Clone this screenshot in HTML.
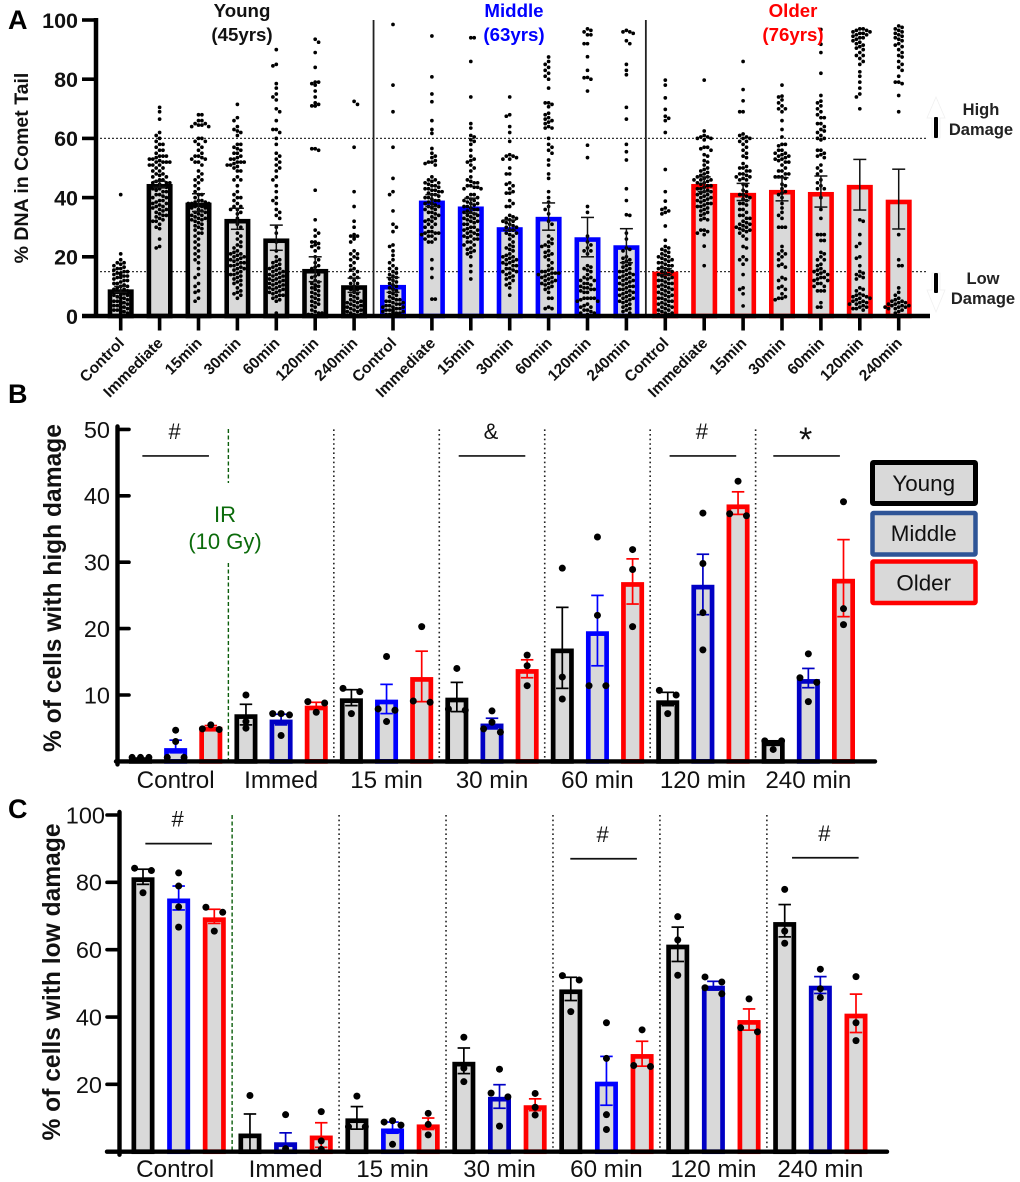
<!DOCTYPE html>
<html lang="en">
<head>
<meta charset="utf-8">
<title>Comet assay DNA damage by age group</title>
<style>
html,body{margin:0;padding:0;background:#fff;}
svg{display:block;font-family:"Liberation Sans",sans-serif;}
</style>
</head>
<body>
<svg id="figure" xmlns="http://www.w3.org/2000/svg" width="1020" height="1182" viewBox="0 0 1020 1182">
  <rect x="0" y="0" width="1020" height="1182" fill="#fff"/>
  <g id="panelA"></g>
  <g id="panelB"></g>
  <g id="panelC"></g>

  <text x="8" y="29" font-size="27" font-weight="bold">A</text>
  <text x="8" y="403" font-size="27" font-weight="bold">B</text>
  <text x="8" y="818" font-size="27" font-weight="bold">C</text>

  <text x="242" y="17" font-size="18.7" font-weight="bold" text-anchor="middle" fill="#111">Young</text>
  <text x="242" y="41" font-size="18.7" font-weight="bold" text-anchor="middle" fill="#111">(45yrs)</text>
  <text x="514" y="17" font-size="18.7" font-weight="bold" text-anchor="middle" fill="#0000ff">Middle</text>
  <text x="514" y="41" font-size="18.7" font-weight="bold" text-anchor="middle" fill="#0000ff">(63yrs)</text>
  <text x="793" y="17" font-size="18.7" font-weight="bold" text-anchor="middle" fill="#ff0000">Older</text>
  <text x="793" y="41" font-size="18.7" font-weight="bold" text-anchor="middle" fill="#ff0000">(76yrs)</text>

  <polygon points="936,97 945,118 940,118 940,138 932,138 932,118 927,118" fill="#fff" stroke="#f0f0f0" stroke-width="0.8"/>
  <polygon points="936,312 945,290 940,290 940,273 932,273 932,290 927,290" fill="#fff" stroke="#f0f0f0" stroke-width="0.8"/>
  <rect x="934" y="117" width="4" height="21" rx="1" fill="#000"/>
  <rect x="934" y="273" width="4" height="20" rx="1" fill="#000"/>
  <text font-size="16.5" font-weight="bold" text-anchor="middle" fill="#222"><tspan x="981" y="115">High</tspan><tspan x="981" y="135">Damage</tspan></text>
  <text font-size="16.5" font-weight="bold" text-anchor="middle" fill="#222"><tspan x="983" y="284">Low</tspan><tspan x="983" y="304">Damage</tspan></text>

  <text font-size="22" text-anchor="middle" fill="#0b6b0b"><tspan x="225" y="522">IR</tspan><tspan x="225" y="549">(10 Gy)</tspan></text>

  <g>
    <g>
      <rect x="872.5" y="462.5" width="103" height="41" rx="1" fill="#d9d9d9" stroke="#000" stroke-width="5"/>
      <text x="923.7" y="491" font-size="22.4" text-anchor="middle" fill="#111">Young</text>
    </g>
    <g>
      <rect x="872.5" y="513" width="103" height="41.5" rx="1" fill="#d9d9d9" stroke="#2f5597" stroke-width="4.5"/>
      <text x="923.7" y="541" font-size="22.4" text-anchor="middle" fill="#111">Middle</text>
    </g>
    <g>
      <rect x="872.5" y="561.5" width="103" height="41.5" rx="1" fill="#d9d9d9" stroke="#ff0000" stroke-width="4.5"/>
      <text x="923.7" y="590.5" font-size="22.4" text-anchor="middle" fill="#111">Older</text>
    </g>
  </g>
</svg>

<script>
/* ---------- Panel A data ---------- */
const aCategories = ['Control','Immediate','15min','30min','60min','120min','240min'];
const aTicks = [0,20,40,60,80,100];
const aThresholds = [60,15];

const aMeanYoung = [9,44.6,38.3,32.8,26.2,15.9,10.4];
const aUpperYoung = [10,45.5,41.3,36.4,30.7,20,12.8];
const aLowerYoung = [8,43.5,35.3,29.3,22.2,11.6,8];
const aMeanMiddle = [10.5,39,37,30,33.5,26.6,23.9];
const aUpperMiddle = [13,41,39.8,32.4,38.2,33.3,29.5];
const aLowerMiddle = [8,37,34.7,29,29,20,18];
const aMeanOlder = [15,44.6,41.6,42.6,41.9,44.3,39.3];
const aUpperOlder = [16,47,44.8,46.7,47.3,52.9,49.6];
const aLowerOlder = [14,42,39,38.9,36.8,35.8,29.4];

const aCellsYoung = [
 [41,21,19,18,18,17.5,17,16.5,16,16,15.5,15,15,14.5,14.5,14,14,14,13.5,13.5,13,13,12.5,12,12,11.5,11,11,10.5,10,10,10,9.5,9,9,8.5,8.5,8,8,7.5,7,7,7,6.5,6,6,6,5.5,5,5,5,4.5,4.5,4,4,4,3.5,3.5,3,3,3,2.5,2.5,2,2,2,1.5,1.5,1,1],
 [70.5,69,66.5,62,61,60,59,58,58,57,56,56,55,54,54,54,53.5,53,53,52.5,52,52,52,52,51,51,51,50,50,49,49,48,48,47.5,47,47,46,46,45.5,45,45,45,44.5,44,44,43.5,43,43,42.5,42,42,41,41,40.5,40,40,39,39,38.5,38,38,37.5,37,37,36.5,36,36,35.5,35,34.5,34,34,33.5,33,32.5,32,32,31,30,29.5,26,23.5,23],
 [68,68,66,66,65,65,64.5,64.5,64,64,60,60,59,59,58,57,56,55,54,54,53.5,53,53,52,52,51,49,48,47,46,46,45,44,43,42,41,41,40,39,39,38.5,38.5,38,38,38,37.5,37,37,36.5,36.5,36,35.5,35,35,34.5,34,34,33.5,33,33,32.5,32.5,32,32,31.5,31,30.5,30,29.5,29,28,28,27,26,25,24,23,22,21,20,19,18,16,14,13,11,10,8.5,8,6,5],
 [71.5,67,66,64,63,62.5,62,61,58,58,57,56.5,56,55,55,54,53.5,53,53,52,52,52,51.5,51,51,50.5,50,49,49,47,46,46,44,42,41,40,40,39,38,37,37,36,36,35,34.5,33,31,30,28,27,26,25,24,23.5,23,22,21.5,21,21,20.5,20,20,19.5,19,19,18.5,18,18,17.5,17,17,16.5,16,16,15.5,15,14.5,14,14,13.5,13,12.5,12,11.5,11,10.5,9.5,8.5,8,7.5,7,6],
 [90,85,84.5,78.5,77,75,74,73,70,69,66,63,63,62,60,58,55,54,53,52,51,50,49,47,46,44,42,40,39,38,36,35,34,33,30,28,25,22,20,19,18.5,18,17.5,17,16.5,16,16,15.5,15,15,14.5,14,14,13.5,13.5,13,13,12.5,12.5,12,12,11.5,11.5,11,11,10.5,10.5,10,10,9.5,9.5,9,9,8.5,8.5,8,8,7.5,7,7,6.5,6,5.5,5,1],
 [93.5,92.5,89,84,79,79,78.5,78,76,74,72,71.5,71,71,71,56.5,56.5,56,42.5,32.5,29,28,27,25,25,24.5,24,23.5,23,22,20,19,18,17,16.5,16,15,14,13.5,13,12,11.5,11,10.5,10,10,9.5,9,8.5,8,7.5,7,6.5,6,5.5,5,4.5,4,3.5,3,2,1.5,1,1,0.5,0.5],
 [72.5,71.5,57,42,37,32,30,27.5,27,27,26.5,26,25,22,21,21,20,19.5,19,18,17,16,15.5,15,14,13,13,12,12,11,11,10,10,9,9,8.5,8,7.5,7,6.5,6,5.5,5,5,4.5,4.5,4,4,3.5,3.5,3,3,2.5,2.5,2,2,1.5,1.5,1,1,0.5,0.5]
];
const aCellsMiddle = [
 [98.5,78,69,57,46.5,42,41,35.5,31,30,28.5,24,23.5,22,20.5,19,18,17,16,16,15,14.5,14,13.5,13,12.5,12,11.5,11,10.5,10,9.5,9,8.5,8,7.5,7,6.5,6,6,5.5,5.5,5,5,4.5,4.5,4,4,3.5,3.5,3,3,3,2.5,2.5,2,2,2,1.5,1.5,1.5,1,1,1,0.5,0.5,0.5,0.5],
 [94.6,80.8,75,72.4,66,63,61.7,56.6,55,54,53.5,52.5,52,52,51.5,51,47,46,46,45.5,45,45,44.5,44,44,43.5,43,43,42.5,42.5,42,42,41.5,41,41,40.5,40,40,39.5,39,39,38.5,38,38,37.5,37,37,36.5,36,36,35,35,34.5,34,33.5,33,32.5,32,32,31,31,30,30,28.5,28.5,28,28,28,27.5,27,27,26,26,25,25,19,16,13,5.7,5.7],
 [94,94,86,74,65,63.5,61,60.5,59.5,59,58,56,54,53,52.5,52,51,50,49,47,46,45.5,45,45,44,44,43.5,43.5,43,43,41,41,40,40,39.5,39,39,38.5,38,38,37.5,37,37,36.5,36,36,35.5,35,35,34.5,34,34,33.5,33,33,32.5,32,32,31.5,31,31,30,30,29.5,29,29,28.5,28,28,27.5,27,27,26.5,26,26,25,25,24,24,23,22.5,22,21.5,21,20,17,15,12.5],
 [74,68,67.5,64,62,59,54.5,54,54,53.5,53,53,50,48,48,45,44.5,44,43,42,41.5,41.5,39,38,37,37,34,33.5,33,33,32.5,32,32,31.5,31,30.5,30,30,29,29,28,28,27.5,27,26,25,24,23.5,23,22.5,22,21,20.5,20,20,19.5,19,19,18.5,18,18,17.5,17,17,16,16,15.5,15,15,14.5,14,13.5,13,12.5,12,11,10.5,9.5,7],
 [87.5,86,85,84,83,82,81,80,77,72,72,71.5,70.7,68.5,68,67,66.5,66,65.5,65,64,63.5,63.5,60,58,57,56,55,52.7,51,48,46.5,42,40,38.5,37,36,34.5,32,31,27,26,25,24.5,24,23.5,23.5,22,21.5,21,20.5,20,19,18,17,16,15.5,15,15,14.5,14.5,14.5,14,14,13.5,13,13,12.5,12,12,11.5,11,11,10.5,10,9.5,9,8,6,6,3,2.5,2.5],
 [97,96.5,96,95,95,92,92,87.6,83,80.6,80.5,80,76,57.7,53.5,37,35,27,25,24,23,22,22,21,17,16.5,16,15.5,15,14,13,13,12.5,12,12,11,11,10.5,10,9.5,9.5,9,9,8.5,8,8,6,6,6,6,5.5,5,5,4,3.5,3,3,2,2,1.5,1,1,0.5],
 [96.5,96,96,95.5,93,92,85,83,81.5,70.5,66.5,58,55.5,52.7,43,39,34.2,34,28,26,23,22.5,22,20,19.5,19,18.5,18,17.5,17,16.5,16,15.5,15,15,14.5,14,14,13.5,13,13,12.5,12,12,11.5,11,11,10.5,10,10,9.5,9,9,8.5,8,8,7.5,7,7,6.5,6,6,5.5,5,5,4.5,4,3.5,3,2.5,2,1.5,1]
];
const aCellsOlder = [
 [79.7,78,73.7,69.8,67.5,66.8,66,62,49.5,42,38.8,36.5,36,35.5,35,34.5,30.4,25.6,23.5,23,22.5,22,21.5,21,20.5,20,20,19.5,19,19,18.5,18,18,17.5,17,17,16.5,16,16,15.5,15,15,14.5,14,14,13.5,13,13,12.5,12,12,11.5,11,11,10.5,10,10,9.5,9,9,8.5,8,8,7.5,7,7,6.5,6,6,5.5,5,5,4.5,4,4,3.5,3,3,2.5,2,2,1.5,1,1,0.5,0.5],
 [79.7,62.5,61,60.5,60.5,60,60,59.5,57,57,56.5,56,54.5,54,52.5,52,51,50,49.5,49,48.5,48,47.5,47,47,46.5,46,46,46,45.5,45,45,44.5,44,44,43.5,43,43,42.5,42,42,41.5,41,41,40.5,40,40,39.5,39,39,38.5,38,38,37.5,37,37,36.5,36,35.5,35,34.5,34,33,32.5,32.5,29,29,28.5,28,27.5,23.6,17],
 [86,76.5,72.7,69,69,61.5,61,60.5,60,60,59,59,58,57,56,55,54,53.5,51.5,50.5,50,50,49,49,48,48,47.5,47,47,46.5,46,46,44.5,44,42.5,42,41,41,40.5,40,39.5,39,38,38,37.5,36,36,35,34,34,33,33,32,31.5,31,31,30.5,30,30,29.5,29,29,28.5,28,27,26,23.5,23,20,19,19,17.5,14,9.5,9,7.5,3.4],
 [78,74.3,74,73,72,71,70,70,69,66,63,60.5,58,58,57.5,56,56,55,55,54.5,54,54,53.5,53,53,52.5,52,52,51,50,49,49,48,48,47,47,47,46.5,44.5,44,43,42,41.5,41,40,38,36.5,35,34,33,30,30,30,23.5,22,21,21,20,19,17.5,17,16.5,13,12.5,12,10,9.5,9,7.5,6.5,6,6,5.5],
 [96.8,91.8,89,82,74.5,72.6,72,71,70,69,68,67,67,65,65,64,63,62.5,62,61,60,60,59.5,56,56,55,54.5,54,53.5,51,50,49,48,46,45,44,43,43,40,36,33,27.5,27.5,27.5,25.5,25.5,21.5,21,20,19,19,17.5,17,16,15.5,15,15,14.5,14,14,13,13,12.5,12,12,11,11,10,10,8.5,8.5,8.5,4.5,3,3],
 [97,97,96.5,96.5,96,96,95.5,95.5,95,95,94.5,94,94,93.5,93,92.5,92,91.5,91,90.5,90,89,88,88,87,86,85,82.5,81,79,77,75,74,70,32.5,32,27.5,24.5,23.5,20,19.5,17,15,14.5,14,13.5,13,12.5,9.5,9,8.5,7.5,7,7,6.5,6.5,6,6,5.5,5,5,4.5,4.5,4,4,3.5,3,3,2.5,2.5,2],
 [98,97.5,97,96.5,96,95.5,95,94.5,94,93.5,93,92,91.5,91,90,89,88,87.5,86,85,84,83,81,79,79,78.5,74.5,69,27.5,19,17,17,9.5,8,7,6,5.5,5,5,4.5,4.5,4,4,3.5,3.5,3.5,3,3,3,2.5,2.5,2,1.5,1]
];

/* ---------- Panel B data ---------- */
const bCategories = ['Control','Immed','15 min','30 min','60 min','120 min','240 min'];
const bTicks = [10,20,30,40,50];
const bMeanYoung = [0.4,7.1,9.5,9.6,17,9.2,3];
const bUpperYoung = [0.5,8.6,10.8,11.9,23.2,10.4,3.1];
const bLowerYoung = [0.3,5.5,8.4,7.5,11,8.4,2.5];
const bMeanMiddle = [2,6.3,9.3,5.7,19.6,26.6,12.4];
const bUpperMiddle = [3.2,7.1,11.6,6.5,25,31.2,14];
const bLowerMiddle = [1.3,5.5,7.2,4.9,14.4,22.1,11.1];
const bMeanOlder = [5.2,8.4,12.7,13.9,27,38.7,27.5];
const bUpperOlder = [5.4,8.9,16.6,15.3,30.5,40.6,33.4];
const bLowerOlder = [4.8,7.9,9,12.6,23.7,37.2,21.8];
const bDotsYoung = [[0.6,0.6,0.6],[10,6,5],[11,10.5,7.2],[14,7.9,7.7],[29.1,12.7,9.4],[10.7,10,7.2],[3.1,3.1,1.8]];
const bDotsMiddle = [[4.7,3,0.6,0.6],[7.2,7.2,7,3.9],[15.8,7.9,7.7,6],[7.6,5.9,4.9,4.4],[33.8,22,11.4,11.4],[37.4,29.8,22.4,16.8],[16.2,12.6,11.9,9]];
const bDotsOlder = [[5.5,4.9,4.8],[9,8.8,7.4],[20.3,9.1,8.9],[16,14.4,11.4],[31.9,28.9,20.3],[42.2,37.3,37],[39.1,23,20.6]];
const bSigSymbols = ['#','&','#','*'];
const bSigCenters = [1,10,16,18.95];
const bSigLevels = [46,46,46,46];

/* ---------- Panel C data ---------- */
const cCategories = ['Control','Immed','15 min','30 min','60 min','120 min','240 min'];
const cTicks = [20,40,60,80,100];
const cMeanYoung = [81.5,5.4,9.9,26.7,48.2,61.5,68.2];
const cUpperYoung = [83.9,11.2,13.4,30.8,51.8,66.7,73.4];
const cLowerYoung = [79.4,0.3,6.7,23.2,44.9,56.5,63.8];
const cMeanMiddle = [75.2,2.8,6.9,16.3,20.8,49.3,49.3];
const cUpperMiddle = [78.9,5.6,8.8,19.9,28.3,50.6,52];
const cLowerMiddle = [71.8,0.2,5.5,12.9,13.8,48,47];
const cMeanOlder = [69.6,4.8,8.1,13.8,29,39.1,41];
const cUpperOlder = [72,8.6,10,15.7,32.8,42.4,46.8];
const cLowerOlder = [67.8,1.3,6.6,12.2,25.4,36.1,35.4];
const cDotsYoung = [[84.2,83.5,76.9],[16.7],[16.5,7.4,7.4],[34,24.8,20.8],[52.3,51,41.6],[69.8,62.9,52.4],[77.9,65.5,61.9]];
const cDotsMiddle = [[82.8,78.9,72.7,66.7],[11,0.9],[9.2,8.8,7.9,2.2],[24.5,17.4,16.3,7.6],[38.3,27.7,11,6.6],[51.9,50.4,48.7,46.9],[54.2,48.4,45.8]];
const cDotsOlder = [[72.6,71.1,65.5],[11.9,3.2,0.7],[11.4,8.1,5],[17.3,13.2,10.9],[36.2,25.6,25.3],[45.4,36.8,35.6],[52,38.3,33]];
const cSigSymbols = ['#','#','#'];
const cSigCenters = [1,12.92,19.14];
const cSigLevels = [91.5,87,87.3];

/* ---------- Axis functions ---------- */
const yA = v => 316 - v * 2.96;
const xA = i => 120.7 + i * 38.9;
const yB = v => 761.4 - v * 6.64;
const xB = i => 140.5 + i * 35.15;
const yC = v => 1151.7 - v * 3.367;
const xC = i => 143 + i * 35.65;

const NS = 'http://www.w3.org/2000/svg';
const COLORS = {young:'#000000', middle:'#0000ff', middleDark:'#0000c4', older:'#ff0000'};

function make(parent, tag, name, attrs, text) {
  const el = document.createElementNS(NS, tag);
  
  
  for (const k in attrs) el.setAttribute(k, attrs[k]);
  if (text !== undefined) el.textContent = text;
  parent.appendChild(el);
  return el;
}

function line(parent, name, x1, y1, x2, y2, color, width, extra) {
  return make(parent, 'line', name, Object.assign({x1, y1, x2, y2, stroke: color, 'stroke-width': width}, extra || {}));
}

function drawError(parent, name, cx, upper, lower, y, color, width, capW) {
  line(parent, name + '-stem', cx, y(upper), cx, y(lower), color, width);
  line(parent, name + '-cap-upper', cx - capW / 2, y(upper), cx + capW / 2, y(upper), color, width);
  line(parent, name + '-cap-lower', cx - capW / 2, y(lower), cx + capW / 2, y(lower), color, width);
}

function drawBar(parent, name, cx, value, y, color, o) {
  const top = y(value);
  const base = y(0);
  return make(parent, 'rect', name, {
    x: cx - o.barW / 2 + o.barS / 2,
    y: top + o.barS / 2,
    width: o.barW - o.barS,
    height: Math.max(0, base - top - o.barS / 2),
    fill: '#d9d9d9',
    stroke: color,
    'stroke-width': o.barS
  });
}

/* dense beeswarm used for panel A cell-level values */
function swarm(parent, name, cx, values, y, limit, lowLimit) {
  const placed = [];
  const sorted = values.slice().sort((a, b) => b - a);
  const step = 3.4;
  const minD = 3.1;
  sorted.forEach(v => {
    const py = y(v);
    const reach = v < 6 ? lowLimit : limit;
    let off = 0;
    let found = false;
    for (let k = 0; k * step <= reach && !found; k++) {
      const choices = k === 0 ? [0] : (placed.length % 2 ? [k * step, -k * step] : [-k * step, k * step]);
      for (const c of choices) {
        const clash = placed.some(p => Math.hypot(p.x - c, p.y - py) < minD);
        if (!clash) { off = c; found = true; break; }
      }
    }
    placed.push({x: off, y: py});
    make(parent, 'circle', name, {cx: cx + off, cy: py, r: 1.85, fill: '#000'});
  });
}

/* small-n scatter: values close together spread sideways */
function spreadDots(parent, name, cx, values, y, threshold, spread) {
  const sorted = values.slice().sort((a, b) => b - a);
  const bins = [];
  sorted.forEach(v => {
    const last = bins[bins.length - 1];
    if (last && last[0] - v <= threshold) last.push(v);
    else bins.push([v]);
  });
  bins.forEach(bin => {
    let offs;
    if (bin.length === 1) offs = [0];
    else if (bin.length === 2) offs = [-spread, spread];
    else offs = [0, -spread, spread, 0];
    bin.forEach((v, i) => {
      make(parent, 'circle', name, {cx: cx + offs[i], cy: y(v), r: 3.5, fill: '#000'});
    });
  });
}

/* ---------- Panel A ---------- */
(function () {
  const p = document.getElementById('panelA');
  const o = {barW: 26, barS: 4.6};
  aThresholds.forEach(t => {
    line(p, 'threshold-line-' + t, 96, yA(t), 928, yA(t), '#333', 1.2, {'stroke-dasharray': '2 2'});
  });
  [6.5, 13.5].forEach(i => {
    line(p, 'age-group-divider', xA(i), 20, xA(i), 316, '#222', 1.8);
  });
  const groups = [
    ['young', aMeanYoung, aUpperYoung, aLowerYoung, aCellsYoung, COLORS.young],
    ['middle', aMeanMiddle, aUpperMiddle, aLowerMiddle, aCellsMiddle, COLORS.middle],
    ['older', aMeanOlder, aUpperOlder, aLowerOlder, aCellsOlder, COLORS.older]
  ];
  groups.forEach((g, gi) => {
    g[1].forEach((m, ci) => {
      drawBar(p, 'bar-' + g[0] + '-' + aCategories[ci].toLowerCase(), xA(gi * 7 + ci), m, yA, g[5], o);
    });
  });
  groups.forEach((g, gi) => {
    g[4].forEach((vals, ci) => {
      const cx = xA(gi * 7 + ci);
      const stacked = (gi === 0 && ci >= 5) || (gi === 1 && ci === 0);
      const compact = gi === 0 && ci === 0;
      const limit = stacked ? 3.5 : (compact ? 10 : 14);
      const lowLimit = stacked ? 13 : limit;
      swarm(p, 'cell-point-' + g[0], cx, vals, yA, limit, lowLimit);
      drawError(p, 'error-bar-' + g[0], cx, g[2][ci], g[3][ci], yA, '#111', 1.5, 13);
    });
  });
  line(p, 'y-axis', 96, 18, 96, 318, '#000', 4.5);
  line(p, 'x-axis', 82, 316, 930, 316, '#000', 4.5);
  aTicks.forEach(t => {
    line(p, 'y-tick-' + t, 82, yA(t), 96, yA(t), '#000', 3.6);
    make(p, 'text', 'y-tick-label-' + t, {x: 78, y: yA(t) + 7.8, 'font-size': 21.5, 'font-weight': 'bold', 'text-anchor': 'end', fill: '#111'}, String(t));
  });
  for (let i = 0; i < 21; i++) {
    const cat = aCategories[i % 7];
    line(p, 'x-tick', xA(i), 316, xA(i), 330.5, '#000', 3.6);
    make(p, 'text', 'x-tick-label-' + cat.toLowerCase(), {
      transform: 'translate(' + (xA(i) + 4.3) + ',344) rotate(-45)',
      'font-size': 15.5, 'font-weight': 'bold', 'text-anchor': 'end', fill: '#111'
    }, cat);
  }
  make(p, 'text', 'y-axis-title', {transform: 'translate(28,168) rotate(-90)', 'font-size': 19.5, 'font-weight': 'bold', 'text-anchor': 'middle', fill: '#111'}, '% DNA in Comet Tail');
})();

/* ---------- Panels B and C ---------- */
function barPanel(cfg) {
  const p = document.getElementById(cfg.id);
  const o = {barW: 23, barS: 4.7};
  const base = cfg.y(0);
  const top = cfg.y(cfg.ticks[cfg.ticks.length - 1]);
  for (let g = 1; g < 7; g++) {
    const sx = cfg.x(3 * g - 0.5);
    if (g === 1) {
      cfg.irSegments.forEach(seg => {
        line(p, 'irradiation-divider', sx, seg[0], sx, seg[1], '#0b5e0b', 1.4, {'stroke-dasharray': '4 2.5'});
      });
    } else {
      line(p, 'timepoint-divider', sx, top, sx, base, '#222', 1.6, {'stroke-dasharray': '1.6 3'});
    }
  }
  cfg.series.forEach((s, si) => {
    s.mean.forEach((m, g) => {
      const cx = cfg.x(3 * g + si);
      const color = (si === 1 && cfg.darkGroups.indexOf(g) >= 0) ? COLORS.middleDark : s.color;
      drawBar(p, 'bar-' + s.name + '-' + cfg.categories[g].replace(' ', '').toLowerCase(), cx, m, cfg.y, color, o);
      drawError(p, 'error-bar-' + s.name, cx, s.upper[g], s.lower[g], cfg.y, color, 1.7, 12.5);
    });
  });
  cfg.series.forEach((s, si) => {
    s.dots.forEach((vals, g) => {
      spreadDots(p, 'replicate-point-' + s.name, cfg.x(3 * g + si), vals, cfg.y, cfg.binThreshold, 8.4);
    });
  });
  line(p, 'y-axis', cfg.axisX, top - 3, cfg.axisX, base + 3, '#000', 4.4, {'stroke-linecap': 'round'});
  line(p, 'x-axis', cfg.xStart, base, cfg.xEnd, base, '#000', 4.4, {'stroke-linecap': 'round'});
  cfg.ticks.forEach(t => {
    line(p, 'y-tick-' + t, cfg.tickFrom, cfg.y(t), cfg.axisX, cfg.y(t), '#000', 3.6, {'stroke-linecap': 'round'});
    make(p, 'text', 'y-tick-label-' + t, {x: cfg.labelX + (t === 100 ? 3 : 0), y: cfg.y(t) + 8.4, 'font-size': 23.5, 'text-anchor': 'end', fill: '#111'}, String(t));
  });
  cfg.categories.forEach((c, g) => {
    make(p, 'text', 'category-label-' + c.replace(' ', '').toLowerCase(), {
      x: cfg.x(3 * g + 1) + (g === 0 ? cfg.firstLabelShift : 0),
      y: cfg.catY, 'font-size': 24.2, 'text-anchor': 'middle', fill: '#111'
    }, c);
  });
  cfg.sigSymbols.forEach((sym, i) => {
    const cx = cfg.x(cfg.sigCenters[i]);
    const ly = cfg.y(cfg.sigLevels[i]);
    line(p, 'significance-line', cx - 33.3, ly, cx + 33.3, ly, '#111', 1.7);
    const star = sym === '*';
    make(p, 'text', 'significance-marker', {
      x: cx - 1, y: star ? ly - 5 : ly - 17,
      'font-size': star ? 34 : 22, 'text-anchor': 'middle', fill: '#111'
    }, sym);
  });
  make(p, 'text', 'y-axis-title', {transform: 'translate(' + cfg.titleX + ',' + cfg.titleY + ') rotate(-90)', 'font-size': 24.6, 'font-weight': 'bold', 'text-anchor': 'middle', fill: '#111'}, cfg.title);
}

barPanel({
  id: 'panelB', x: xB, y: yB, ticks: bTicks, categories: bCategories,
  axisX: 117.5, xStart: 116, xEnd: 875, tickFrom: 129, labelX: 110, catY: 788,
  firstLabelShift: 0, binThreshold: 0.9, darkGroups: [1, 3, 5, 6],
  irSegments: [[429, 483], [563, 761]],
  sigSymbols: bSigSymbols, sigCenters: bSigCenters, sigLevels: bSigLevels,
  titleX: 61, titleY: 588, title: '% of cells with high damage',
  series: [
    {name: 'young', color: COLORS.young, mean: bMeanYoung, upper: bUpperYoung, lower: bLowerYoung, dots: bDotsYoung},
    {name: 'middle', color: COLORS.middle, mean: bMeanMiddle, upper: bUpperMiddle, lower: bLowerMiddle, dots: bDotsMiddle},
    {name: 'older', color: COLORS.older, mean: bMeanOlder, upper: bUpperOlder, lower: bLowerOlder, dots: bDotsOlder}
  ]
});

barPanel({
  id: 'panelC', x: xC, y: yC, ticks: cTicks, categories: cCategories,
  axisX: 119.5, xStart: 107, xEnd: 887, tickFrom: 107, labelX: 102, catY: 1177,
  firstLabelShift: -3.5, binThreshold: 1.9, darkGroups: [1, 3, 5, 6],
  irSegments: [[815, 1151]],
  sigSymbols: cSigSymbols, sigCenters: cSigCenters, sigLevels: cSigLevels,
  titleX: 60, titleY: 982, title: '% of cells with low damage',
  series: [
    {name: 'young', color: COLORS.young, mean: cMeanYoung, upper: cUpperYoung, lower: cLowerYoung, dots: cDotsYoung},
    {name: 'middle', color: COLORS.middle, mean: cMeanMiddle, upper: cUpperMiddle, lower: cLowerMiddle, dots: cDotsMiddle},
    {name: 'older', color: COLORS.older, mean: cMeanOlder, upper: cUpperOlder, lower: cLowerOlder, dots: cDotsOlder}
  ]
});
</script>
</body>
</html>
